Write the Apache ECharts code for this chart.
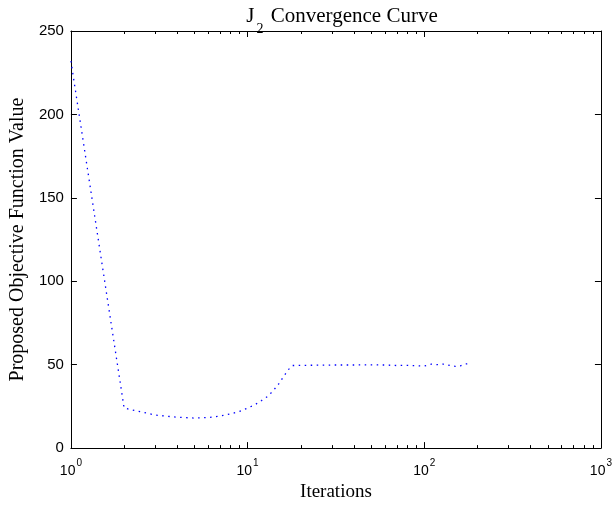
<!DOCTYPE html>
<html lang="en">
<head>
    <meta charset="UTF-8">
    <title>J2 Convergence Curve</title>
    <script src="https://cdn.jsdelivr.net/npm/echarts@6.0.0/dist/echarts.min.js"></script>
    <style>
        body { margin: 0; background: #fff; }
        #main { width: 615px; height: 507px; }
    </style>
</head>
<body>
<div id="main"></div>
<script type="text/javascript">
    // values
    var iterations = [1, 2, 3, 4, 5, 6, 7, 8, 9, 10, 11, 12, 13, 14, 15, 16, 17, 18,
        20, 25, 30, 40, 50, 60, 70, 80, 90, 100, 110, 120, 130, 140, 150, 160, 170, 180, 185];
    var objValues = [232, 24, 19.8, 18.5, 18, 18.3, 19.2, 20.5, 22, 24, 26, 28.5, 31, 34.5, 38.5, 43, 47, 49.5,
        49.6, 49.7, 49.8, 49.8, 49.9, 49.8, 49.5, 49.6, 49.4, 49.2, 50.3, 50.0, 50.4, 49.5, 49.0, 49.3, 50.4, 50.6, 50.5];
    var yTicks = [0, 50, 100, 150, 200, 250];
    var minorTicks = [2, 3, 4, 5, 6, 7, 8, 9, 20, 30, 40, 50, 60, 70, 80, 90, 200, 300, 400, 500, 600, 700, 800, 900];

    var serif = 'Liberation Serif';
    var sans = 'Liberation Sans';

    var chartDom = document.getElementById('main');
    var myChart = echarts.init(chartDom);

    function logAxis(pos, len, ticks, showLine, showLabel) {
        var ax = {
            type: 'log', logBase: 10, min: 1, max: 1000, position: pos,
            axisLine: { show: showLine, lineStyle: { color: '#000', width: 1 } },
            axisTick: { show: true, inside: true, length: len, lineStyle: { color: '#000' } },
            splitLine: { show: false },
            axisLabel: { show: false }
        };
        if (ticks) ax.axisTick.customValues = ticks;
        if (showLabel) {
            ax.axisLabel = {
                show: true, margin: 10,
                formatter: function (v) {
                    return '{b|10}{s|' + Math.round(Math.log10(v)) + '}';
                },
                rich: {
                    b: { fontFamily: sans, fontSize: 14, color: '#000', verticalAlign: 'bottom', lineHeight: 14 },
                    s: { fontFamily: sans, fontSize: 10, color: '#000', verticalAlign: 'top', lineHeight: 20, padding: [0, 0, 0, 1] }
                }
            };
            ax.name = 'Iterations';
            ax.nameLocation = 'middle';
            ax.nameGap = 33;
            ax.nameTextStyle = { fontFamily: serif, fontSize: 19, color: '#000' };
        }
        return ax;
    }

    var option = {
        animation: false,
        backgroundColor: '#fff',
        title: {
            text: '{j|J}{sub|2}{j| Convergence Curve}',
            left: 337, top: 1, textAlign: 'center',
            textStyle: {
                fontWeight: 'normal',
                rich: {
                    j: { fontFamily: serif, fontSize: 21, fontWeight: 'normal', color: '#000', verticalAlign: 'top', lineHeight: 22 },
                    sub: { fontFamily: serif, fontSize: 14, fontWeight: 'normal', color: '#000', verticalAlign: 'bottom', lineHeight: 30, padding: [0, 2, 0, 2] }
                }
            }
        },
        grid: { left: 69, right: 11, top: 31, bottom: 54 },
        xAxis: [
            logAxis('bottom', 6, null, true, true),
            logAxis('bottom', 3, minorTicks, false, false),
            logAxis('top', 6, null, true, false),
            logAxis('top', 3, minorTicks, false, false)
        ],
        yAxis: [
            {
                type: 'value', min: 0, max: 250, interval: 50, position: 'left',
                axisLine: { show: true, lineStyle: { color: '#000', width: 1 } },
                axisTick: { inside: true, length: 6, lineStyle: { color: '#000' } },
                splitLine: { show: false },
                axisLabel: {
                    margin: 7, fontFamily: sans, fontSize: 15, color: '#000',
                    customValues: yTicks
                },
                name: 'Proposed Objective Function Value',
                nameLocation: 'middle',
                nameGap: 36,
                nameTextStyle: { fontFamily: serif, fontSize: 20, color: '#000' }
            },
            {
                type: 'value', min: 0, max: 250, interval: 50, position: 'right',
                axisLine: { show: true, lineStyle: { color: '#000', width: 1 } },
                axisTick: { inside: true, length: 6, lineStyle: { color: '#000' } },
                splitLine: { show: false },
                axisLabel: { show: false }
            }
        ],
        series: [
            {
                type: 'line',
                xAxisIndex: 0,
                yAxisIndex: 0,
                symbol: 'none',
                smooth: false,
                lineStyle: { color: '#0000ff', width: 1.3, type: [1.5, 4.5] },
                data: iterations.map(function (x, i) { return [x, objValues[i]]; })
            }
        ]
    };

    option && myChart.setOption(option);
</script>
</body>
</html>
